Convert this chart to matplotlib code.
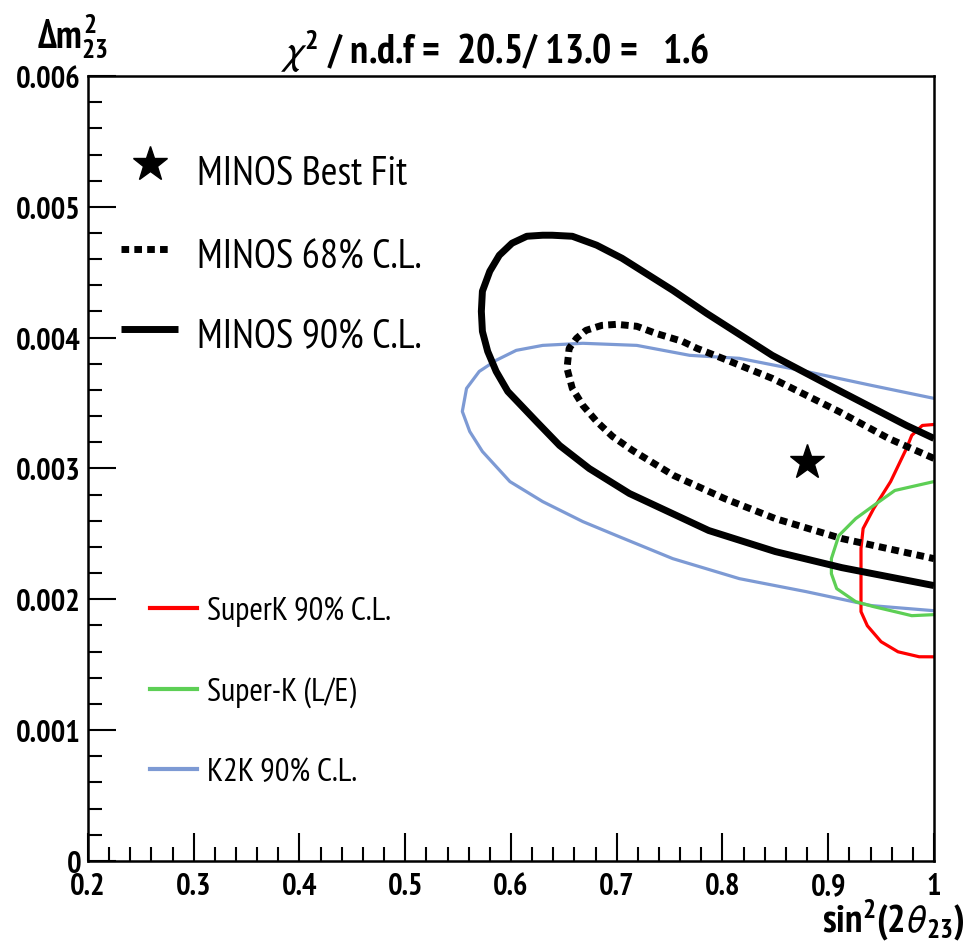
import matplotlib
matplotlib.use("Agg")
import matplotlib.pyplot as plt
from matplotlib.lines import Line2D
from matplotlib.ticker import MultipleLocator, FixedLocator
from matplotlib import font_manager as fm


def _w(f):
    w = f.weight
    if isinstance(w, str):
        w = fm.weight_dict.get(w, 400)
    return w


_pref = ['Nimbus Sans Narrow', 'Liberation Sans Narrow', 'Arial Narrow', 'PT Sans Narrow',
         'Pragati Narrow', 'Archivo Narrow', 'Roboto Condensed', 'Fira Sans Condensed',
         'IBM Plex Sans Condensed', 'Encode Sans Condensed', 'Sofia Sans Condensed',
         'Liberation Sans']
_bold_ok = set(f.name for f in fm.fontManager.ttflist if _w(f) >= 700)
MAIN = next((n for n in _pref if n in _bold_ok), 'DejaVu Sans')
REG = MAIN
FONT = [MAIN, 'DejaVu Sans']
plt.rcParams['font.family'] = FONT
plt.rcParams['mathtext.fontset'] = 'custom'
plt.rcParams['mathtext.rm'] = MAIN + ':bold'
plt.rcParams['mathtext.it'] = MAIN + ':bold'
plt.rcParams['mathtext.bf'] = MAIN + ':bold'
plt.rcParams['mathtext.fallback'] = 'stixsans'

# ---- data ----
minos90_x = [1.000, 0.974, 0.910, 0.847, 0.785, 0.753, 0.705, 0.681, 0.658, 0.639,
             0.630, 0.615, 0.601, 0.589, 0.580, 0.573, 0.572, 0.573, 0.578, 0.586,
             0.597, 0.624, 0.646, 0.674, 0.712, 0.787, 0.850, 0.913, 1.000]
minos90_y = [0.003230, 0.003329, 0.003597, 0.003865, 0.004186, 0.004362, 0.004607,
             0.004707, 0.004775, 0.004783, 0.004783, 0.004775, 0.004722, 0.004630,
             0.004508, 0.004355, 0.004201, 0.004048, 0.003895, 0.003742, 0.003589,
             0.003360, 0.003176, 0.003000, 0.002809, 0.002526, 0.002365, 0.002242,
             0.002105]

minos68_x = [1.000, 0.957, 0.910, 0.847, 0.800, 0.776, 0.762, 0.737, 0.719, 0.700,
             0.686, 0.671, 0.662, 0.655, 0.653, 0.658, 0.668, 0.681, 0.696, 0.715,
             0.754, 0.802, 0.850, 0.913, 1.000]
minos68_y = [0.003077, 0.003230, 0.003436, 0.003689, 0.003842, 0.003918, 0.003972,
             0.004033, 0.004087, 0.004102, 0.004094, 0.004056, 0.003995, 0.003918,
             0.003765, 0.003612, 0.003482, 0.003360, 0.003245, 0.003138, 0.002946,
             0.002770, 0.002617, 0.002464, 0.002311]

k2k_x = [1.000, 0.941, 0.879, 0.816, 0.769, 0.719, 0.668, 0.630, 0.605, 0.586,
         0.570, 0.558, 0.554, 0.561, 0.573, 0.599, 0.630, 0.668, 0.702, 0.753,
         0.816, 0.879, 0.941, 1.000]
k2k_y = [0.003536, 0.003635, 0.003742, 0.003842, 0.003865, 0.003941, 0.003957,
         0.003941, 0.003903, 0.003827, 0.003742, 0.003612, 0.003436, 0.003283,
         0.003130, 0.002900, 0.002747, 0.002594, 0.002480, 0.002311, 0.002158,
         0.002059, 0.001952, 0.001913]

superk_x = [1.02, 0.989, 0.979, 0.974, 0.959, 0.943, 0.933, 0.931, 0.931, 0.937,
            0.950, 0.966, 0.986, 1.02]
superk_y = [0.003350, 0.003329, 0.003253, 0.003153, 0.002900, 0.002694, 0.002541,
            0.002388, 0.001906, 0.001798, 0.001676, 0.001599, 0.001561, 0.001560]

superkle_x = [1.000, 0.963, 0.943, 0.926, 0.910, 0.903, 0.903, 0.908, 0.926, 0.943,
              0.963, 0.979, 1.000]
superkle_y = [0.002900, 0.002832, 0.002717, 0.002617, 0.002487, 0.002311, 0.002196,
              0.002082, 0.001982, 0.001944, 0.001906, 0.001875, 0.001883]

bestfit_x = [0.88]
bestfit_y = [0.00305]

x_ticks = [0.2, 0.3, 0.4, 0.5, 0.6, 0.7, 0.8, 0.9, 1.0]
x_ticklabels = ['0.2', '0.3', '0.4', '0.5', '0.6', '0.7', '0.8', '0.9', '1']
y_ticks = [0, 0.001, 0.002, 0.003, 0.004, 0.005, 0.006]
y_ticklabels = ['0', '0.001', '0.002', '0.003', '0.004', '0.005', '0.006']

RED = '#ff0000'
GREEN = '#5dcf55'
BLUE = '#7d9ad4'

fig = plt.figure(figsize=(9.74, 9.53), dpi=100)
ax = fig.add_axes([0.0903, 0.0955, 0.8686, 0.8237])
ax.set_xlim(0.2, 1.0)
ax.set_ylim(0, 0.006)

ax.plot(k2k_x, k2k_y, color=BLUE, lw=2.3, solid_joinstyle='round')
ax.plot(superk_x, superk_y, color=RED, lw=2.3, solid_joinstyle='round')
ax.plot(superkle_x, superkle_y, color=GREEN, lw=2.3, solid_joinstyle='round')
ax.plot(minos90_x, minos90_y, color='black', lw=5, solid_capstyle='butt',
        solid_joinstyle='round')
ax.plot(minos68_x, minos68_y, color='black', lw=5, linestyle=(0, (1.1, 0.75)),
        dash_capstyle='butt')
ax.plot(bestfit_x, bestfit_y, marker='*', color='black', markersize=26, linestyle='none')

# ticks
ax.xaxis.set_major_locator(FixedLocator(x_ticks))
ax.set_xticklabels(x_ticklabels)
ax.xaxis.set_minor_locator(MultipleLocator(0.02))
ax.yaxis.set_major_locator(FixedLocator(y_ticks))
ax.set_yticklabels(y_ticklabels)
ax.yaxis.set_minor_locator(MultipleLocator(0.0002))
ax.tick_params(which='both', direction='in', top=False, right=False, width=1.5)
ax.tick_params(which='major', length=20)
ax.tick_params(axis='y', which='major', pad=5)
ax.tick_params(axis='x', which='major', pad=8)
ax.tick_params(which='minor', length=10)
for lab in ax.get_xticklabels() + ax.get_yticklabels():
    lab.set_fontweight('bold')
    lab.set_fontsize(22)
    lab.set_family(FONT)
for s in ax.spines.values():
    s.set_linewidth(1.8)

# titles / labels
fig.text(0.508, 0.948, r'$\chi^{2}$ / n.d.f =  20.5/ 13.0 =   1.6', ha='center', va='center',
         fontsize=29, fontweight='bold')
fig.text(0.074, 0.962, r'$\Delta m^{2}_{23}$', ha='center', va='center', fontsize=28,
         fontweight='bold')
fig.text(0.917, 0.035, r'sin$^{2}$(2$\theta_{23}$)', ha='center', va='center', fontsize=28,
         fontweight='bold')

# legend (upper)
T = ax.transAxes
ax.plot([0.0733], [0.888], marker='*', color='black', markersize=26, transform=T, clip_on=False)
ax.text(0.129, 0.876, 'MINOS Best Fit', transform=T, fontsize=29, va='center', ha='left',
        family=[REG, 'DejaVu Sans'])
ax.add_line(Line2D([0.039, 0.099], [0.780, 0.780], transform=T, color='black', lw=5,
                   linestyle=(0, (1.1, 0.75)), dash_capstyle='butt'))
ax.text(0.129, 0.770, 'MINOS 68% C.L.', transform=T, fontsize=29, va='center', ha='left',
        family=[REG, 'DejaVu Sans'])
ax.add_line(Line2D([0.039, 0.106], [0.678, 0.678], transform=T, color='black', lw=5,
                   solid_capstyle='butt'))
ax.text(0.129, 0.669, 'MINOS 90% C.L.', transform=T, fontsize=29, va='center', ha='left',
        family=[REG, 'DejaVu Sans'])

# legend (lower)
for yl, col, lab in [(0.322, RED, 'SuperK 90% C.L.'), (0.219, GREEN, 'Super-K (L/E)'),
                     (0.117, BLUE, 'K2K 90% C.L.')]:
    ax.add_line(Line2D([0.073, 0.129], [yl, yl], transform=T, color=col, lw=3))
    ax.text(0.141, yl - 0.003, lab, transform=T, fontsize=23.5, va='center', ha='left',
            family=[REG, 'DejaVu Sans'])

fig.savefig('out.png', dpi=100)
